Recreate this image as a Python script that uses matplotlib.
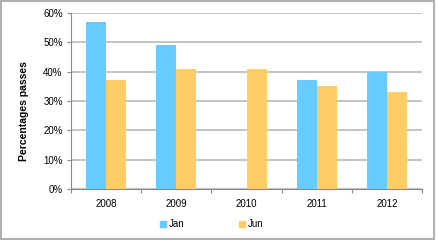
import numpy as np
import matplotlib.pyplot as plt
from matplotlib.patches import Rectangle
from matplotlib.lines import Line2D
from matplotlib.ticker import PercentFormatter

plt.rcParams['font.family'] = ['Liberation Sans', 'DejaVu Sans']

years = ['2008', '2009', '2010', '2011', '2012']
jan = [57, 49, 0, 37, 40]
jun = [37, 41, 41, 35, 33]

jan_color = '#66CCFF'
jun_color = '#FFCC66'
grid_color = '#BFBFBF'

fig = plt.figure(figsize=(4.36, 2.4), dpi=100)
ax = fig.add_axes([0.163, 0.2125, 0.805, 0.7335])

x = np.arange(len(years))
w = 0.285
ax.bar(x - w / 2, jan, w, color=jan_color, zorder=3)
ax.bar(x + w / 2, jun, w, color=jun_color, zorder=3)

ax.set_xlim(-0.5, len(years) - 0.5)
ax.set_ylim(0, 60)
ax.set_yticks(range(0, 61, 10))
ax.yaxis.set_major_formatter(PercentFormatter(decimals=0))
ax.set_xticks(x)
ax.set_xticklabels(years)
ax.set_xticks(np.arange(-0.5, len(years), 1), minor=True)
ax.tick_params(axis='x', which='major', length=0, pad=7, labelsize=7)
ax.tick_params(axis='x', which='minor', length=3, color='#888888', width=0.8)
ax.tick_params(axis='y', length=3, color='#888888', width=0.8, labelsize=7, pad=3)

ax.grid(axis='y', color=grid_color, linewidth=1.3, zorder=0)
for s in ['top', 'right']:
    ax.spines[s].set_visible(False)
for s in ['left', 'bottom']:
    ax.spines[s].set_color('#888888')
    ax.spines[s].set_linewidth(0.8)

ax.set_ylabel('Percentages passes', fontsize=7.5, fontweight='bold')
ax.yaxis.set_label_coords(-0.12, 0.44)

handles = [Line2D([], [], marker='s', linestyle='none', color=jan_color, markersize=4),
           Line2D([], [], marker='s', linestyle='none', color=jun_color, markersize=4)]
fig.legend(handles, ['Jan', 'Jun'], loc='center', bbox_to_anchor=(0.485, 0.065),
           ncol=2, frameon=False, fontsize=7, handlelength=0.6, handletextpad=0.3,
           columnspacing=5.6)

fig.patches.append(Rectangle((0.003, 0.005), 0.992, 0.99, transform=fig.transFigure,
                             fill=False, edgecolor='#B0B0B0', linewidth=1.5))

fig.savefig('out.png', dpi=100)
